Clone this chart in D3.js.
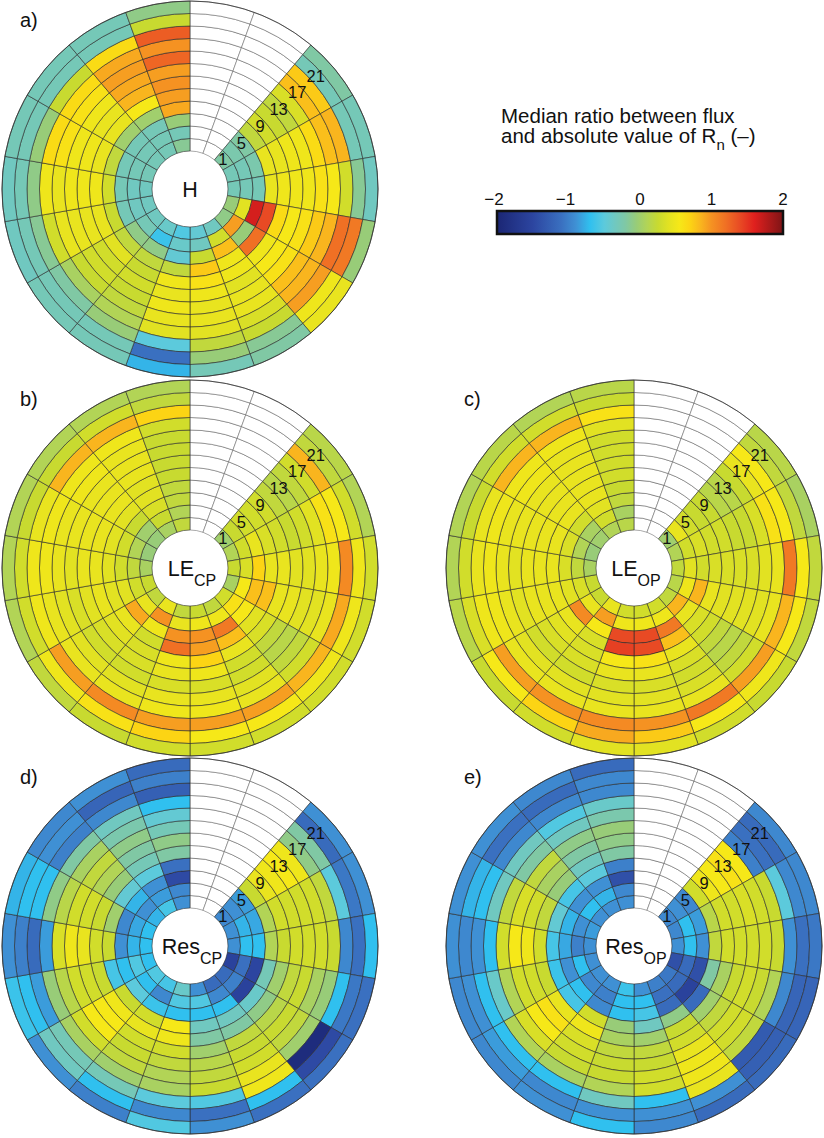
<!DOCTYPE html>
<html>
<head>
<meta charset="utf-8">
<script src="https://cdn.jsdelivr.net/npm/d3@7"></script>
<style>
  html, body { margin: 0; padding: 0; background: #fff; }
  svg { display: block; }
  text { font-family: "Liberation Sans", Arial, Helvetica, sans-serif; fill: #111; }
</style>
</head>
<body>
<svg id="chart" width="824" height="1138"></svg>
<script>
// ---------------- DATA ----------------
// 18 direction sectors (20° each, clockwise from north), 12 two-hour rings (inner -> outer)
const N = null;
const ringLabels = [1, 5, 9, 13, 17, 21];
const colorTicks = [-2, -1, 0, 1, 2];

const H = [
  N, N,
  [-0.2,-0.25,-0.2,0.2,0.3,0.25,0.2,0.35,0.8,0.75,-0.3,-0.2],
  [-0.3,-0.3,-0.25,0.45,0.45,0.5,0.5,0.65,0.8,0.85,-0.3,-0.3],
  [-0.3,-0.3,-0.3,0.45,0.5,0.5,0.5,0.6,0.55,0.3,-0.15,-0.35],
  [-0.05,0.4,1.65,1.4,0.65,0.55,0.6,0.75,0.85,1.2,1.15,-0.05],
  [-0.1,0.95,-0.05,1.2,0.5,0.55,0.6,0.8,0.85,0.95,0.5,0.45],
  [-0.35,0.3,0.8,0.5,0.5,0.4,0.45,0.45,0.35,0.25,-0.15,-0.2],
  [-0.45,-0.35,0.25,0.75,0.6,0.5,0.45,0.45,0.4,0.2,-0.05,-0.3],
  [-0.55,-0.4,-0.45,0.2,0.5,0.45,0.5,0.45,0.4,-0.5,-1.1,-0.75],
  [-0.4,-0.65,-0.1,0.2,0.25,0.3,0.25,0.2,0.1,-0.05,-0.3,-0.3],
  [-0.35,-0.3,-0.1,0.2,0.4,0.3,0.3,0.25,0.05,-0.2,-0.3,-0.3],
  [-0.35,-0.35,-0.3,0.25,0.45,0.45,0.45,0.45,0.3,-0.15,-0.3,-0.35],
  [-0.35,-0.35,-0.3,0.3,0.5,0.5,0.5,0.45,0.5,-0.1,-0.3,-0.35],
  [-0.3,-0.3,-0.3,0.2,0.45,0.5,0.5,0.6,0.65,-0.05,-0.3,-0.3],
  [-0.3,-0.3,-0.3,0.0,0.45,0.45,0.5,0.6,0.65,0.25,-0.3,-0.3],
  [-0.3,-0.3,-0.3,0.0,0.55,0.85,0.9,0.95,0.9,0.65,-0.3,-0.3],
  [-0.15,-0.3,-0.05,0.9,0.95,1.0,0.95,1.25,1.0,1.3,0.25,-0.1]
];

const LE_CP = [
  N, N,
  [0.0,0.25,0.3,0.3,0.3,0.2,0.15,0.2,0.3,0.85,0.2,0.15],
  [0.1,0.3,0.45,0.35,0.3,0.25,0.3,0.4,0.6,0.55,0.3,0.1],
  [0.25,0.35,0.7,0.45,0.45,0.4,0.4,0.45,0.5,1.05,0.5,0.3],
  [0.05,0.55,0.8,0.8,0.45,0.45,0.4,0.4,0.45,0.9,0.5,0.3],
  [0.3,0.6,0.55,0.4,0.35,0.2,0.15,0.2,0.3,0.85,0.5,0.3],
  [0.2,0.5,1.15,0.8,0.45,0.3,0.3,0.4,0.45,0.95,0.55,0.3],
  [0.25,0.5,1.0,0.95,0.7,0.5,0.35,0.45,0.5,0.95,0.55,0.3],
  [0.2,0.45,1.0,1.2,0.5,0.45,0.35,0.45,0.5,0.95,0.7,0.3],
  [0.45,1.0,0.5,0.3,0.35,0.35,0.3,0.4,0.45,1.05,0.6,0.25],
  [0.2,0.45,0.9,0.45,0.4,0.35,0.3,0.4,0.45,0.95,0.5,0.2],
  [0.25,0.3,0.4,0.4,0.45,0.4,0.35,0.4,0.45,0.5,0.3,0.1],
  [0.05,0.2,0.3,0.4,0.45,0.45,0.4,0.45,0.5,0.5,0.3,0.1],
  [-0.05,0.1,0.3,0.4,0.45,0.45,0.45,0.45,0.5,0.45,0.25,0.1],
  [-0.05,0.0,0.25,0.4,0.45,0.45,0.45,0.5,0.5,0.85,0.25,0.1],
  [0.05,0.25,0.35,0.4,0.4,0.45,0.45,0.45,0.5,0.85,0.3,0.1],
  [0.2,0.1,0.2,0.2,0.25,0.25,0.25,0.25,0.3,0.7,0.2,0.1]
];

const LE_OP = [
  N, N,
  [0.0,0.45,0.3,0.25,0.25,0.15,0.15,0.25,0.45,0.55,0.2,0.15],
  [0.1,0.3,0.35,0.3,0.3,0.25,0.25,0.35,0.6,0.55,0.2,0.05],
  [0.2,0.4,0.3,0.35,0.35,0.35,0.35,0.4,0.45,1.15,0.55,0.2],
  [0.15,0.5,0.85,0.45,0.4,0.4,0.4,0.4,0.45,0.85,0.55,0.2],
  [0.2,0.85,0.45,0.35,0.3,0.2,0.15,0.2,0.3,0.95,0.5,0.25],
  [0.3,0.5,1.15,0.8,0.45,0.35,0.3,0.35,0.45,1.15,0.55,0.3],
  [0.3,0.5,1.4,1.4,0.6,0.45,0.35,0.4,0.45,1.0,0.75,0.4],
  [0.3,0.5,1.4,1.45,0.55,0.45,0.35,0.4,0.45,1.05,0.9,0.4],
  [0.45,0.95,0.55,0.35,0.35,0.35,0.3,0.4,0.45,1.0,0.7,0.3],
  [0.25,0.45,1.05,0.45,0.4,0.35,0.3,0.4,0.45,0.95,0.55,0.25],
  [0.25,0.35,0.4,0.45,0.45,0.45,0.4,0.45,0.5,0.5,0.35,0.15],
  [0.05,0.2,0.35,0.45,0.45,0.45,0.4,0.45,0.5,0.45,0.3,0.1],
  [-0.05,0.1,0.35,0.45,0.45,0.45,0.45,0.45,0.5,0.45,0.25,0.1],
  [0.0,0.05,0.3,0.45,0.45,0.45,0.45,0.5,0.5,0.85,0.3,0.15],
  [0.1,0.3,0.4,0.45,0.45,0.45,0.45,0.45,0.5,0.85,0.3,0.1],
  [0.15,0.05,0.2,0.25,0.3,0.3,0.3,0.3,0.4,0.6,0.25,0.15]
];

const Res_CP = [
  N, N,
  [-0.95,-0.9,-0.85,0.25,0.45,0.5,0.55,0.5,-0.1,-0.2,-1.15,-0.9],
  [-0.9,-0.75,-0.8,0.1,0.3,0.3,0.3,0.3,0.2,-0.5,-1.05,-0.9],
  [-0.9,-0.7,-0.7,0.1,0.25,0.3,0.3,0.3,0.25,-0.95,-1.1,-0.7],
  [-1.55,-1.1,-1.5,-0.3,0.0,0.2,0.25,0.05,-0.05,-0.7,-1.05,-1.1],
  [-1.15,-1.0,-1.55,-0.4,-0.1,0.15,0.25,0.2,0.0,-1.9,-1.45,-1.1],
  [-1.15,-0.95,-0.7,-0.35,-0.2,0.2,0.25,0.3,0.45,0.5,-0.7,-1.1],
  [-0.9,-0.55,-0.7,-0.35,-0.2,0.0,0.15,0.2,0.25,-0.55,-1.1,-0.9],
  [-0.4,-0.55,-0.7,0.55,0.5,0.3,0.2,0.1,0.05,-0.5,-0.95,-0.55],
  [-0.6,-0.95,-0.65,0.3,0.45,0.3,0.25,0.2,0.0,-0.3,-0.7,-1.0],
  [-0.55,-0.7,-0.5,0.25,0.5,0.55,0.55,0.3,0.05,-0.3,-0.35,-0.9],
  [-0.7,-0.55,-0.7,-0.6,0.25,0.3,0.3,0.15,-0.05,-0.85,-0.7,-0.65],
  [-0.7,-0.75,-0.9,0.25,0.3,0.45,0.5,0.35,-0.85,-1.15,-1.0,-0.9],
  [-0.7,-0.8,-0.95,0.0,0.25,0.3,0.3,0.15,-0.1,-0.7,-0.7,-0.75],
  [-0.75,-0.9,-0.75,-0.45,-0.05,0.1,0.2,0.05,-0.2,-1.0,-0.9,-0.95],
  [-0.6,-0.85,-0.9,-0.5,-0.3,-0.2,-0.1,-0.25,-0.35,-0.95,-1.2,-0.9],
  [-0.9,-0.95,-1.45,-1.1,-0.2,-0.1,-0.3,-0.45,-0.7,-1.25,-1.0,-1.15]
];

const Res_OP = [
  N, N,
  [-0.95,-0.9,-0.95,0.3,0.5,0.55,0.6,0.55,-1.0,-1.1,-1.15,-0.95],
  [-0.95,-0.7,-0.85,0.15,0.3,0.3,0.35,0.3,0.25,-0.5,-0.95,-0.95],
  [-0.9,-0.7,-0.9,0.2,0.3,0.3,0.3,0.3,0.25,-0.9,-1.1,-1.05],
  [-1.4,-1.15,-1.4,-0.2,0.05,0.25,0.3,0.25,0.1,-0.95,-1.2,-1.2],
  [-1.05,-1.15,-1.55,-1.15,0.0,0.2,0.3,0.3,0.2,-1.3,-1.25,-1.15],
  [-1.0,-1.1,-1.15,-0.1,0.25,0.3,0.45,0.5,0.5,0.45,-0.9,-1.15],
  [-0.9,-0.7,-0.6,-0.35,0.0,0.2,0.25,0.3,0.3,-0.7,-0.9,-0.95],
  [-0.65,-0.7,-0.7,-0.05,0.05,0.2,0.25,0.25,0.1,-0.35,-0.9,-0.7],
  [-0.9,-1.0,-0.95,0.3,0.5,0.35,0.3,0.25,0.05,-0.7,-0.95,-0.9],
  [-0.9,-0.95,-0.7,-0.6,0.45,0.6,0.55,0.35,0.1,-0.7,-0.85,-0.95],
  [-0.9,-0.7,-0.9,-0.65,0.25,0.3,0.3,0.1,-0.4,-0.7,-0.9,-0.95],
  [-0.9,-1.0,-0.8,-0.6,0.3,0.5,0.55,0.3,-0.7,-0.9,-0.95,-0.9],
  [-0.85,-0.9,-0.75,-0.45,0.2,0.3,0.35,0.2,-0.35,-0.7,-0.75,-0.9],
  [-0.9,-0.7,-0.9,-0.6,-0.05,0.05,0.2,-0.2,-0.35,-0.95,-1.1,-0.9],
  [-0.9,-0.75,-0.9,-0.5,-0.35,-0.2,-0.1,-0.35,-0.55,-0.95,-1.15,-0.95],
  [-0.9,-0.95,-1.4,-1.0,-0.2,-0.1,-0.05,-0.25,-0.4,-0.95,-0.95,-1.15]
];

// colormap stops (value, colour)
const cmapValues = [-2.0,-1.5,-1.1,-0.9,-0.7,-0.5,-0.35,-0.2,-0.05,0.1,0.25,0.4,0.55,0.7,0.85,1.0,1.2,1.4,1.6,2.0];
const cmapColors = ["#1b2674","#2c45a0","#3a70c0","#3f90d4","#30c0ef","#5ccadc","#70c8c0","#80c8a4","#98cc78","#b2d456","#c8da30","#e2e222","#f6e818","#fcd414","#f9b51e","#f59222","#f07024","#e84a24","#e0201e","#7e1416"];

// ---------------- DRAWING ----------------
const svg = d3.select("#chart");
const color = d3.scaleLinear().domain(cmapValues).range(cmapColors).interpolate(d3.interpolateRgb).clamp(true);

const nSectors = 18, nRings = 12;
const R0 = 38, R1 = 188;
const rScale = d3.scaleLinear().domain([0, nRings]).range([R0, R1]);
const aScale = d3.scaleLinear().domain([0, nSectors]).range([0, 2 * Math.PI]);
const arc = d3.arc()
  .innerRadius(d => rScale(d.ring))
  .outerRadius(d => rScale(d.ring + 1))
  .startAngle(d => aScale(d.sector))
  .endAngle(d => aScale(d.sector + 1));

const panels = [
  { tag: "a)", data: H,      main: "H",   sub: "",   cx: 190, cy: 189 },
  { tag: "b)", data: LE_CP,  main: "LE",  sub: "CP", cx: 190, cy: 568 },
  { tag: "c)", data: LE_OP,  main: "LE",  sub: "OP", cx: 634, cy: 568 },
  { tag: "d)", data: Res_CP, main: "Res", sub: "CP", cx: 190, cy: 946 },
  { tag: "e)", data: Res_OP, main: "Res", sub: "OP", cx: 634, cy: 946 }
];

panels.forEach(p => {
  const cells = [];
  p.data.forEach((row, s) => {
    for (let r = 0; r < nRings; r++) {
      cells.push({ sector: s, ring: r, value: row ? row[r] : null });
    }
  });
  const g = svg.append("g").attr("transform", `translate(${p.cx},${p.cy})`);
  g.selectAll("path.cell").data(cells).join("path")
    .attr("class", "cell")
    .attr("d", arc)
    .attr("fill", d => d.value == null ? "#ffffff" : color(d.value))
    .attr("stroke", d => d.value == null ? "#555" : "#2a2a2a")
    .attr("stroke-width", d => d.value == null ? 0.5 : 0.6);

  g.append("circle").attr("r", R1).attr("fill", "none").attr("stroke", "#333").attr("stroke-width", 0.8);

  // ring labels along ~48° in the first data sector
  const la = 48 * Math.PI / 180;
  g.selectAll("text.rl").data(ringLabels).join("text")
    .attr("class", "rl")
    .attr("x", d => rScale((d - 1) / 2 + 0.5) * Math.sin(la))
    .attr("y", d => -rScale((d - 1) / 2 + 0.5) * Math.cos(la))
    .attr("dy", "0.36em")
    .attr("text-anchor", "middle")
    .attr("font-size", 16.5)
    .text(d => d);

  // centre label
  const t = g.append("text")
    .attr("x", p.sub ? 2 : 0)
    .attr("y", 8)
    .attr("text-anchor", "middle")
    .attr("font-size", 21.5);
  t.append("tspan").text(p.main);
  if (p.sub) t.append("tspan").attr("dy", 10).attr("font-size", 16).text(p.sub);

  // panel tag
  svg.append("text")
    .attr("x", p.cx - 170).attr("y", p.cy - 162)
    .attr("font-size", 20)
    .text(p.tag);
});

// ---------------- COLOURBAR ----------------
const cbX0 = 497, cbX1 = 783, cbY = 211, cbH = 23;
const cbScale = d3.scaleLinear().domain([-2, 2]).range([cbX0, cbX1]);
const defs = svg.append("defs");
const grad = defs.append("linearGradient").attr("id", "cbgrad").attr("x1", "0%").attr("x2", "100%");
grad.selectAll("stop").data(cmapValues).join("stop")
  .attr("offset", (d) => ((d + 2) / 4 * 100) + "%")
  .attr("stop-color", (d, i) => cmapColors[i]);

svg.append("rect").attr("x", cbX0).attr("y", cbY).attr("width", cbX1 - cbX0).attr("height", cbH)
  .attr("fill", "url(#cbgrad)").attr("stroke", "#111").attr("stroke-width", 2.5);

svg.selectAll("text.cbt").data(colorTicks).join("text")
  .attr("class", "cbt")
  .attr("x", d => cbScale(d) - (d < 0 ? 3 : 0))
  .attr("y", 205)
  .attr("text-anchor", "middle")
  .attr("font-size", 17)
  .text(d => d < 0 ? "\u2212" + Math.abs(d) : d);

svg.append("text").attr("x", 501).attr("y", 122.5).attr("font-size", 20.5)
  .text("Median ratio between flux");
const t2 = svg.append("text").attr("x", 501).attr("y", 143).attr("font-size", 20.5);
t2.append("tspan").text("and absolute value of R");
t2.append("tspan").attr("dy", 7).attr("font-size", 15).text("n");
t2.append("tspan").attr("dy", -7).text(" (\u2013)");
</script>
</body>
</html>
